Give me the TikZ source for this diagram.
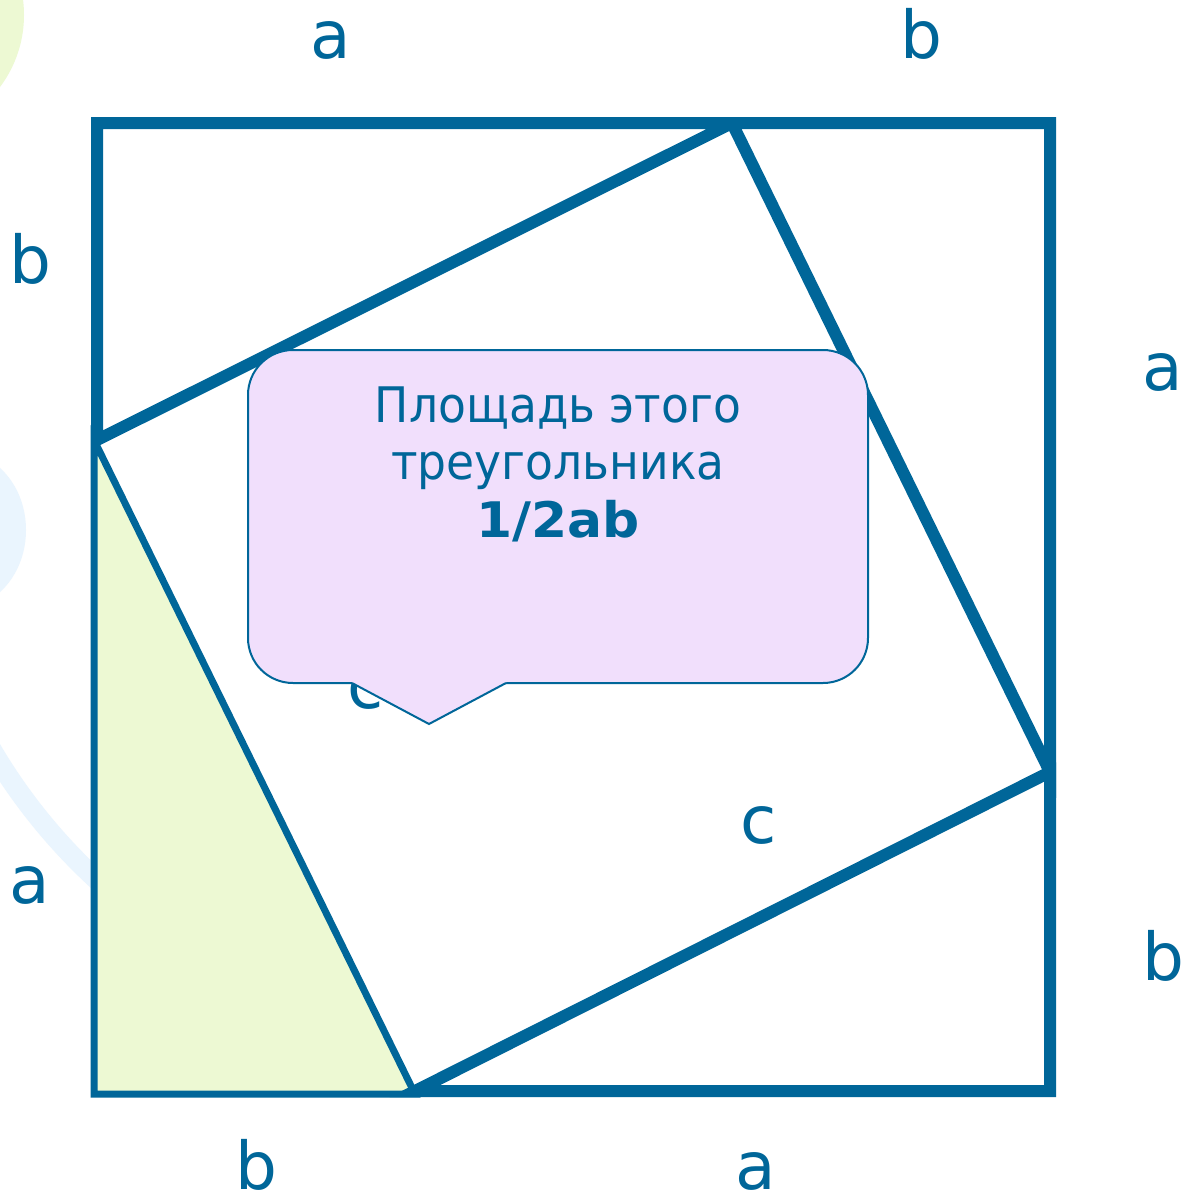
\documentclass[tikz,border=0pt]{standalone}
\usepackage{fontspec}
\setmainfont{DejaVu Sans}
\newfontfamily\calloutfont{DejaVu Sans}[FakeStretch=0.93]
\newfontfamily\calloutbold{DejaVu Sans}[FakeStretch=1.06]
\definecolor{edge}{HTML}{006699}
\definecolor{leaf}{HTML}{EDF9D3}
\definecolor{mist}{HTML}{EAF5FE}
\definecolor{lilac}{HTML}{F1DFFC}
\begin{document}
\begin{tikzpicture}[x=1pt,y=-1pt,line join=miter,
  thickedge/.style={draw=edge,line width=12pt},
  thinedge/.style={draw=edge,line width=7pt},
  lbl/.style={text=edge,font=\fontsize{66}{66}\selectfont,inner sep=0pt,anchor=base},
  calloutbox/.style={draw=edge,line width=2pt,fill=lilac,rounded corners=45pt,inner sep=0pt}]
\useasboundingbox (0,0) rectangle (1182,1197);
\fill[white] (0,0) rectangle (1182,1197);
% background decorations
\fill[leaf] (-96,15) circle[radius=120pt];
\fill[mist] (-40,530) ellipse[x radius=66pt,y radius=78pt];
\begin{scope}
  \clip (0,0) rectangle (91,1197);
  \draw[mist,line width=20pt] (482,461) ++(205:569pt) arc[start angle=205,end angle=240,radius=569pt];
\end{scope}
% vertices
\coordinate (TL) at (97,123);
\coordinate (TR) at (1050,123);
\coordinate (BR) at (1050,1091);
\coordinate (BL) at (94,1094);
\coordinate (P) at (732,123);
\coordinate (Q) at (97,440);
\coordinate (Qt) at (94,440);
\coordinate (R) at (1050,772);
\coordinate (S) at (415,1091);
\coordinate (St) at (415,1094);
% shaded triangle
\draw[thinedge,fill=leaf] (Qt) -- (BL) -- (St) -- cycle;
% thick triangles
\draw[thickedge] (TL) -- (P) -- (Q) -- cycle;
\draw[thickedge] (P) -- (TR) -- (R) -- cycle;
\draw[thickedge] (R) -- (BR) -- (S) -- cycle;
% side labels
\node[lbl] (la1) at (331,58) {a};
\node[lbl] (lb1) at (921,58) {b};
\node[lbl] (lb2) at (30,283) {b};
\node[lbl] (la2) at (1163,390) {a};
\node[lbl] (la3) at (30,903) {a};
\node[lbl] (lb3) at (1163,980) {b};
\node[lbl] (lb4) at (256,1189) {b};
\node[lbl] (la4) at (756,1189) {a};
\node[lbl] (lc1) at (759,843) {c};
\node[lbl] (lc2) at (366,708) {c};
% callout
\node[calloutbox,minimum width=620pt,minimum height=333pt] (callout) at (558,516.5) {};
\fill[lilac] (352,680) -- (352,683) -- (429,724) -- (506,683) -- (506,680) -- cycle;
\coordinate (pl) at (352,683);
\coordinate (pt) at (429,724);
\coordinate (pr) at (506,683);
\draw[edge,line width=2pt,line join=miter] (pl) -- (pt) -- (pr);
\node[text=edge,inner sep=0pt,anchor=base] (msg) at (558,422)
  {\calloutfont\fontsize{49}{57.5}\selectfont\setlength{\tabcolsep}{0pt}%
   \begin{tabular}[t]{c}Площадь этого\\треугольника\\{\calloutbold\bfseries 1/2ab}\end{tabular}};
\end{tikzpicture}
\end{document}
